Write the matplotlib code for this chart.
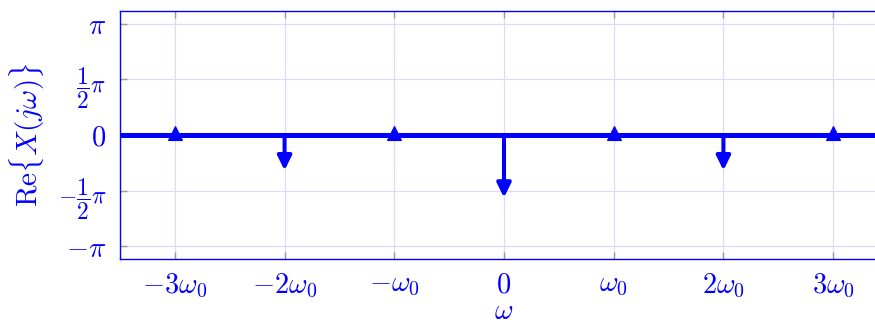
import numpy as np
import matplotlib
matplotlib.use("Agg")
import matplotlib.pyplot as plt
import matplotlib.transforms as mtransforms

plt.rcParams["mathtext.fontset"] = "cm"
plt.rcParams["font.family"] = ["DejaVu Serif"]

# Real part of the spectrum at multiples of omega_0
harmonics = [-3, -2, -1, 0, 1, 2, 3]
re_values = [0.0, -1.0, 0.0, -1.77, 0.0, -1.0, 0.0]

x_tick_labels = [r"$-3\omega_0$", r"$-2\omega_0$", r"$-\omega_0$", r"$0$",
                 r"$\omega_0$", r"$2\omega_0$", r"$3\omega_0$"]
y_ticks = [-np.pi, -np.pi / 2, 0, np.pi / 2, np.pi]
y_tick_labels = [r"$-\pi$", r"$-\dfrac{1}{2}\pi$", r"$0$", r"$\dfrac{1}{2}\pi$", r"$\pi$"]

BLUE = "#0000ff"
GRID = "#dadaff"

fig = plt.figure(figsize=(8.75, 3.24), dpi=100)
ax = fig.add_axes([120 / 875, 65 / 324, 768 / 875, 248 / 324])

ax.set_xlim(-3.5, 3.5)
ax.set_ylim(-1.117 * np.pi, 1.117 * np.pi)

ax.set_xticks(harmonics)
ax.set_xticklabels(x_tick_labels)
ax.set_yticks(y_ticks)
ax.set_yticklabels(y_tick_labels)

ax.grid(True, color=GRID, lw=0.9)
ax.set_axisbelow(True)

for side in ["left", "bottom", "top"]:
    ax.spines[side].set_color(BLUE)
    ax.spines[side].set_linewidth(1.0)
ax.spines["right"].set_visible(False)

ax.tick_params(axis="both", which="major", direction="in", color="#999999",
               length=5, width=1.0, labelsize=20.5, labelcolor=BLUE,
               top=True, right=False)
ax.tick_params(axis="x", pad=9)
ax.tick_params(axis="y", pad=10)
for lbl in ax.get_yticklabels():
    if "frac" in lbl.get_text():
        lbl.set_fontsize(17)

ax.set_xlabel(r"$\omega$", fontsize=20.5, color=BLUE, labelpad=-1)
ax.set_ylabel(r"$\mathrm{Re}\{X(j\omega)\}$", fontsize=21, color=BLUE, labelpad=8)

# Zero baseline
ax.axhline(0, color=BLUE, lw=3.6, zorder=3)

# Stems with arrow heads
up_offset = mtransforms.offset_copy(ax.transData, fig=fig, x=0, y=2, units="dots")
for xv, yv in zip(harmonics, re_values):
    if yv == 0:
        ax.plot([xv], [yv], marker="^", ms=9.5, color=BLUE, mec=BLUE, mew=0.8,
                transform=up_offset, zorder=4, clip_on=False)
    else:
        ax.annotate("", xy=(xv, yv), xytext=(xv, 0),
                    arrowprops=dict(arrowstyle="-|>,head_length=0.85,head_width=0.42",
                                    color=BLUE, lw=2.9, shrinkA=0, shrinkB=0,
                                    mutation_scale=10),
                    zorder=4)

fig.savefig("out.png", dpi=100)
